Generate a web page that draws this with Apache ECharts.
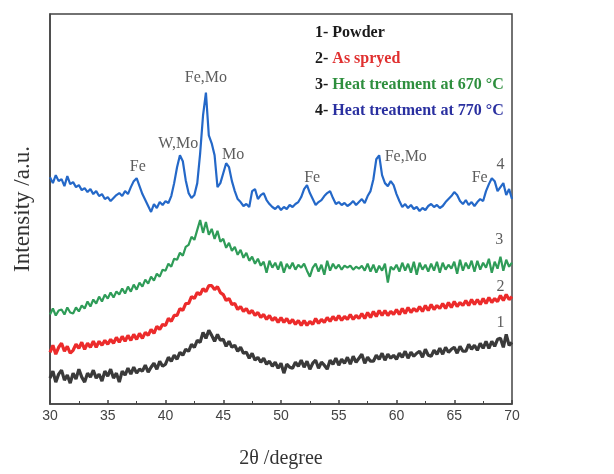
<!DOCTYPE html>
<html>
<head>
<meta charset="utf-8">
<script src="https://cdn.jsdelivr.net/npm/echarts@6/dist/echarts.min.js"></script>
<style>
html,body{margin:0;padding:0;background:#fff;}
#chart{width:614px;height:474px;}
</style>
</head>
<body>
<div id="chart"></div>
<script>
// 2θ sampling: 30 to 70 in steps of 0.25 degree
var thetaStart = 30, thetaStep = 0.25;

// 1- Powder (relative intensity, arbitrary units)
var powder = [
26,33,22,30, 34,24,29,21, 31,25,35,27, 22,31,27,34, 26,30,23,33,
28,35,26,31, 22,33,29,36, 30,37,31,35, 33,39,32,37, 41,35,43,38,
40,47,43,49, 45,52,49,55, 53,60,57,64, 62,72,66,74, 69,63,70,64,
65,58,63,57, 59,53,57,51, 52,46,51,44, 47,42,46,40, 43,38,42,36,
41,31,40,37, 36,42,38,44, 37,43,35,41, 44,36,42,39, 35,44,40,46,
39,45,41,47, 40,48,42,46, 50,41,47,43, 43,49,45,51, 44,50,46,49,
45,51,47,53, 46,52,48,51, 53,47,55,49, 48,54,50,56, 50,57,52,55,
57,51,58,53, 53,60,55,59, 54,61,56,63, 56,63,58,65, 66,57,70,59,
62];

// 2- As sprayed
var asSprayed = [
52,59,50,57, 61,53,58,51, 54,60,56,62, 55,61,57,63, 57,63,59,64,
60,65,61,67, 62,68,63,69, 64,70,65,71, 66,72,69,75, 71,78,75,80,
79,86,83,89, 89,96,94,101, 101,108,106,112, 110,116,113,119, 119,115,118,112,
110,104,106,100, 101,95,98,93, 96,91,94,89, 92,87,90,85, 89,84,87,82,
87,82,86,81, 85,80,84,79, 84,79,83,80, 86,81,85,82, 87,83,88,84,
89,84,88,85, 90,85,89,86, 91,86,92,87, 93,88,94,89, 94,89,93,90,
95,90,96,91, 97,92,96,93, 98,93,99,94, 100,95,99,96, 101,96,102,97,
103,98,102,99, 104,99,105,100, 105,100,106,101, 107,102,106,103, 109,104,110,105,
108];

// 3- Heat treatment at 670 °C
var heat670 = [
90,96,89,94, 95,90,97,92, 91,97,93,99, 96,103,98,105, 101,108,103,110,
106,112,107,113, 110,116,111,118, 113,120,115,122, 118,125,121,128, 124,131,128,135,
134,141,138,146, 145,152,149,158, 160,168,165,175, 185,172,183,170, 176,166,174,163,
166,157,162,154, 158,150,155,147, 152,144,148,141, 146,139,143,132, 144,137,142,135,
143,132,141,136, 142,135,140,137, 141,134,128,137, 141,133,140,130, 144,134,141,136,
140,135,139,137, 139,135,138,136, 139,134,141,133, 140,132,139,134, 141,122,138,135,
140,133,142,134, 141,132,143,130, 142,135,140,133, 141,134,143,132, 142,135,140,136,
143,131,145,134, 142,136,144,133, 144,135,142,137, 146,132,143,136, 148,134,145,138,
142];

// 4- Heat treatment at 770 °C
var heat770 = [
228,222,230,224, 226,219,229,221, 223,218,220,215, 217,213,216,211, 214,209,211,206,
208,204,207,210, 212,209,214,211, 218,224,227,219, 211,205,199,193, 201,197,203,200,
204,202,209,222, 238,250,244,225, 212,207,210,222, 252,290,313,270, 262,250,218,222,
232,242,238,224, 214,206,203,199, 201,198,214,216, 206,210,212,205, 201,198,196,199,
195,198,196,200, 198,201,203,208, 216,220,212,206, 200,203,205,209, 212,214,207,201,
203,200,202,199, 201,204,200,203, 206,202,209,214, 226,246,250,230, 222,219,224,220,
211,204,198,201, 197,200,196,198, 194,197,195,199, 201,198,200,197, 199,203,206,209,
213,210,204,201, 205,200,203,199, 203,206,204,214, 221,227,224,214, 218,222,210,216,
206];

// Peak annotations
var peakNames = ['Fe', 'W,Mo', 'Fe,Mo', 'Mo', 'Fe', 'Fe,Mo', 'Fe'];
var peakX = [37.6, 41.1, 43.5, 45.85, 52.7, 60.8, 67.2];
var peakY = [238, 262, 328, 250, 227, 248, 227];

// Curve numbers
var curveNames = ['1', '2', '3', '4'];
var curveX = [69.0, 69.0, 68.9, 69.0];
var curveY = [82, 118, 165, 240];

// Legend texts
var legendNums = ['1- ', '2- ', '3- ', '4- '];
var legendTexts = ['Powder', 'As spryed', 'Heat treatment at 670 °C', 'Heat treatment at 770 °C'];

var xTicks = [30, 35, 40, 45, 50, 55, 60, 65, 70];

var colors = ['#3a3a3a', '#ec2b2b', '#2f9c58', '#2468c8'];
var widths = [3.2, 3.2, 2.2, 2.2];
var legendColors = ['#1a1a1a', '#e03030', '#2e8f3e', '#2a30a0'];

function toPairs(arr) {
  return arr.map(function (v, i) { return [thetaStart + i * thetaStep, v]; });
}

var chart = echarts.init(document.getElementById('chart'));

var seriesList = [powder, asSprayed, heat670, heat770].map(function (arr, k) {
  return {
    type: 'line',
    data: toPairs(arr),
    showSymbol: false,
    symbol: 'none',
    lineStyle: { color: colors[k], width: widths[k] },
    animation: false,
    z: 2 + k
  };
});

seriesList.push({
  type: 'scatter',
  symbolSize: 0,
  silent: true,
  animation: false,
  data: peakNames.map(function (n, i) { return { value: [peakX[i], peakY[i]], name: n }; }),
  label: {
    show: true,
    position: 'inside',
    formatter: function (p) { return p.name; },
    fontFamily: 'Liberation Serif, Times New Roman, serif',
    fontSize: 16,
    color: '#333'
  },
  z: 10
});

seriesList.push({
  type: 'scatter',
  symbolSize: 0,
  silent: true,
  animation: false,
  data: curveNames.map(function (n, i) { return { value: [curveX[i], curveY[i]], name: n }; }),
  label: {
    show: true,
    position: 'inside',
    formatter: function (p) { return p.name; },
    fontFamily: 'Liberation Serif, Times New Roman, serif',
    fontSize: 16,
    color: '#333'
  },
  z: 10
});

var legendGraphics = legendTexts.map(function (t, i) {
  return {
    type: 'text',
    left: 315,
    top: 25 + i * 26,
    style: {
      text: '{n|' + legendNums[i] + '}{t|' + t + '}',
      rich: {
        n: { fontFamily: 'Liberation Serif, serif', fontWeight: 'bold', fontSize: 16, fill: '#1a1a1a', color: '#1a1a1a' },
        t: { fontFamily: 'Liberation Serif, serif', fontWeight: 'bold', fontSize: 16, fill: legendColors[i], color: legendColors[i] }
      }
    },
    z: 20
  };
});

chart.setOption({
  backgroundColor: '#fff',
  animation: false,
  grid: { left: 50, top: 14, width: 462, height: 392, show: true, borderColor: '#444', borderWidth: 1.5, backgroundColor: 'transparent' },
  xAxis: {
    type: 'value',
    min: 30, max: 70, interval: 5,
    name: '2θ /degree',
    nameLocation: 'middle',
    nameGap: 45,
    nameTextStyle: { fontFamily: 'Liberation Serif, serif', fontSize: 20, color: '#333' },
    axisLine: { show: true, lineStyle: { color: '#444', width: 1.5 } },
    axisTick: { show: true, inside: true, length: 4, lineStyle: { color: '#444', width: 1.5 } },
    minorTick: { show: true, splitNumber: 2, length: 3, lineStyle: { color: '#444', width: 1 } },
    axisLabel: {
      fontFamily: 'Liberation Sans, Arial, sans-serif', fontSize: 14, color: '#444', margin: 5,
      formatter: function (v) { return xTicks.indexOf(v) >= 0 ? String(v) : ''; }
    },
    splitLine: { show: false }
  },
  yAxis: {
    type: 'value',
    min: 0, max: 392,
    name: 'Intensity /a.u.',
    nameLocation: 'middle',
    nameGap: 16,
    nameRotate: 90,
    nameTextStyle: { fontFamily: 'Liberation Serif, serif', fontSize: 23, color: '#333' },
    axisLine: { show: true, lineStyle: { color: '#444', width: 1.5 } },
    axisTick: { show: false },
    axisLabel: { show: false },
    splitLine: { show: false }
  },
  graphic: legendGraphics,
  series: seriesList
});
</script>
</body>
</html>
